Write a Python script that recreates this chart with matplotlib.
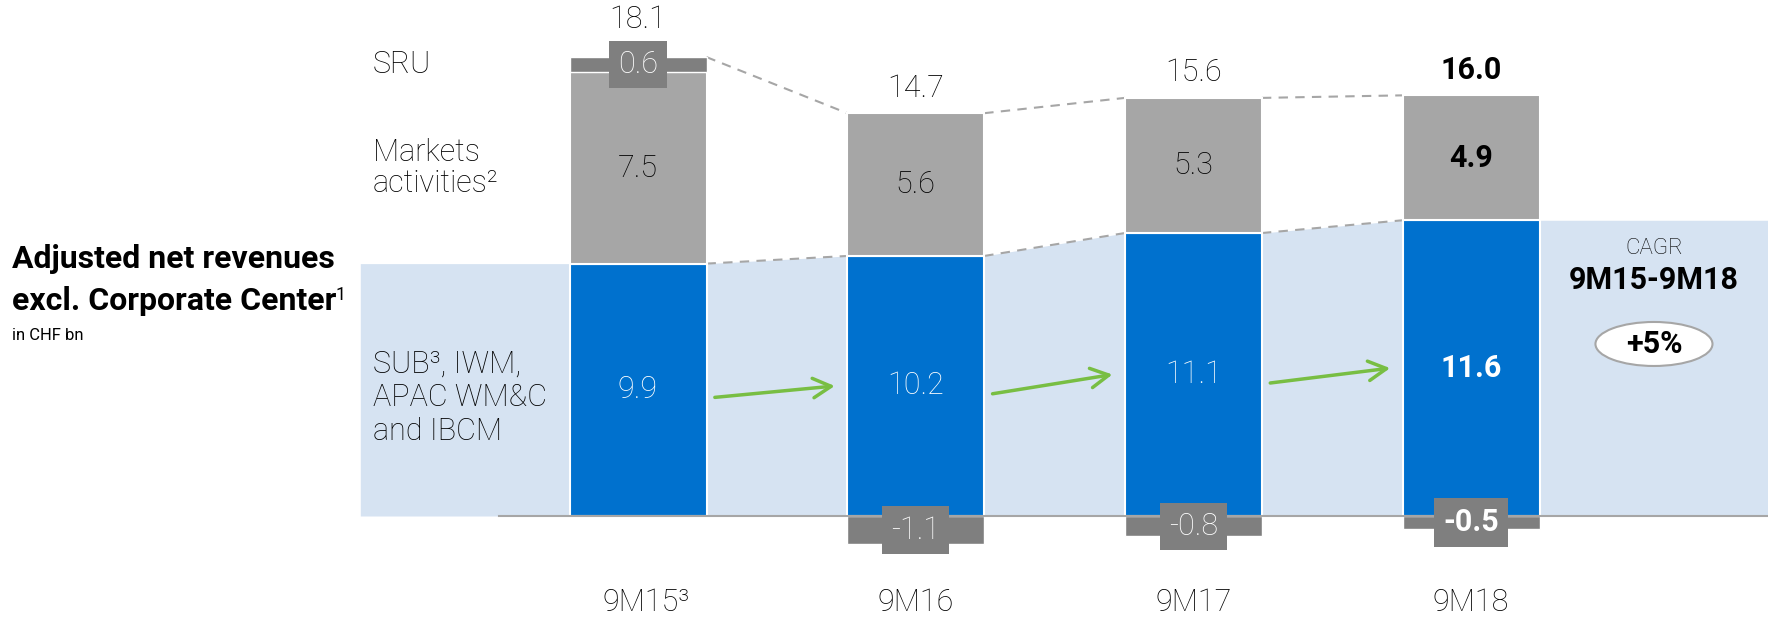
import matplotlib.pyplot as plt
from matplotlib.patches import Ellipse

# Data (CHF bn)
periods = ["9M15", "9M16", "9M17", "9M18"]
period_notes = ["³", "", "", ""]
core = [9.9, 10.2, 11.1, 11.6]        # SUB, IWM, APAC WM&C and IBCM
markets = [7.5, 5.6, 5.3, 4.9]        # Markets activities
sru = [0.6, -1.1, -0.8, -0.5]         # SRU
totals = [18.1, 14.7, 15.6, 16.0]
highlight = [False, False, False, True]
cagr = "+5%"

BLUE = "#0071CE"
GREY = "#A6A6A6"
DARK = "#7F7F7F"
BAND = "#D6E3F2"
GREEN = "#78BE43"
FONT = "Roboto"

plt.rcParams["font.family"] = [FONT, "DejaVu Sans"]

fig = plt.figure(figsize=(17.68, 6.19), dpi=100)
ax = fig.add_axes([0, 0, 1, 1])
xmax = 4.069
ax.set_xlim(-2.2975, xmax)
ax.set_ylim(-4.04, 20.24)
ax.axis("off")

x = list(range(len(periods)))
w = 0.4933
tops = [c + m + max(s, 0) for c, m, s in zip(core, markets, sru)]

# light blue band following the core bars
bx, by = [-1.0], [core[0]]
for i in x:
    bx += [i - w / 2, i + w / 2]
    by += [core[i], core[i]]
bx.append(xmax)
by.append(core[-1])
ax.fill_between(bx, 0, by, color=BAND, lw=0, zorder=0)

# dashed connectors
for i in x[:-1]:
    ax.plot([i + w / 2, i + 1 - w / 2], [core[i], core[i + 1]], color=GREY,
            lw=1.5, ls=(0, (4.5, 3.5)), zorder=1)
    ax.plot([i + w / 2, i + 1 - w / 2], [tops[i], tops[i + 1]], color=GREY,
            lw=1.5, ls=(0, (4.5, 3.5)), zorder=1)

# stacked bars
ax.bar(x, core, w, color=BLUE, edgecolor="white", lw=1.5, zorder=2)
ax.bar(x, markets, w, bottom=core, color=GREY, edgecolor="white", lw=1.5, zorder=2)
sru_bottom = [c + m if s > 0 else 0 for c, m, s in zip(core, markets, sru)]
ax.bar(x, sru, w, bottom=sru_bottom, color=DARK, edgecolor="white", lw=1.0, zorder=2)

# baseline
ax.plot([-0.5, xmax], [0, 0], color=GREY, lw=1.5, zorder=3)

# value labels
for i in x:
    wt = "bold" if highlight[i] else "light"
    ax.text(i, core[i] / 2, f"{core[i]:.1f}", color="white", fontsize=22,
            fontweight=wt, ha="center", va="center", zorder=5)
    ax.text(i, core[i] + markets[i] / 2, f"{markets[i]:.1f}", color="black",
            fontsize=22, fontweight=wt, ha="center", va="center", zorder=5)
    ax.text(i, sru_bottom[i] + sru[i] / 2, f"{sru[i]:.1f}", color="white",
            fontsize=22, fontweight=wt, ha="center", va="center", zorder=5,
            bbox=dict(boxstyle="square,pad=0.3", fc=DARK, ec="none"))
    ax.annotate(f"{totals[i]:.1f}", (i, tops[i]),
                xytext=(0, 27 if sru[i] > 0 else 18), textcoords="offset points",
                fontsize=22, fontweight=wt, ha="center", va="center")
    ax.text(i + (0.03 if period_notes[i] else 0), -3.41,
            periods[i] + period_notes[i], fontsize=22, fontweight="light",
            ha="center", va="center")

# green growth arrows
for i in x[:-1]:
    ax.annotate("", xy=(i + 1 - w / 2 - 0.045, core[i + 1] * 0.5),
                xytext=(i + w / 2 + 0.03, core[i] * 0.47),
                arrowprops=dict(arrowstyle="->,head_length=0.65,head_width=0.35",
                                color=GREEN, lw=2.5, mutation_scale=20,
                                shrinkA=0, shrinkB=0), zorder=4)

# row labels
lx = -0.954
ax.text(lx, tops[0] - sru[0] / 2, "SRU", fontsize=22, fontweight="light",
        ha="left", va="center")
ax.text(lx, core[0] + markets[0] / 2, "Markets\nactivities²", fontsize=22,
        fontweight="light", ha="left", va="center", linespacing=1.1)
ax.text(lx, core[0] / 2 - 0.3, "SUB³, IWM,\nAPAC WM&C\nand IBCM", fontsize=22,
        fontweight="light", ha="left", va="center", linespacing=1.2)

# title
ax.text(0.0068, 0.5816, "Adjusted net revenues", transform=ax.transAxes,
        fontsize=23, fontweight="bold", ha="left", va="center")
t = ax.text(0.0068, 0.5137, "excl. Corporate Center", transform=ax.transAxes,
            fontsize=23, fontweight="bold", ha="left", va="center")
ax.annotate("1", xy=(1, 1), xycoords=t, xytext=(-1, 0), textcoords="offset points",
            fontsize=13, ha="left", va="top")
ax.text(0.0068, 0.4572, "in CHF bn", transform=ax.transAxes,
        fontsize=12, ha="left", va="center")

# CAGR
ax.text(0.9355, 0.5993, "CAGR", transform=ax.transAxes, fontsize=16,
        fontweight="light", ha="center", va="center")
ax.text(0.9355, 0.5477, f"{periods[0]}-{periods[-1]}", transform=ax.transAxes,
        fontsize=22, fontweight="bold", ha="center", va="center")
ax.add_patch(Ellipse((0.9355, 0.4443), 0.0662, 0.0711, transform=ax.transAxes,
                     fc="white", ec=GREY, lw=1.5, zorder=4))
ax.text(0.9355, 0.4443, cagr, transform=ax.transAxes, fontsize=22,
        fontweight="bold", ha="center", va="center", zorder=5)

fig.savefig("out.png", dpi=100)
